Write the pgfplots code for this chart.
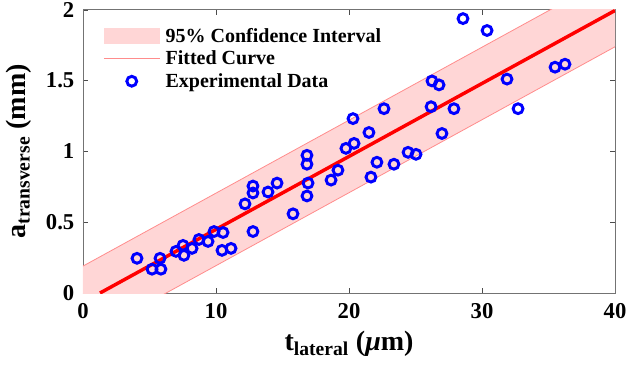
\documentclass[border=0pt]{standalone}
\usepackage{fontspec}
\setmainfont{Liberation Serif}
\usepackage{pgfplots}
\pgfplotsset{compat=1.18}
\definecolor{bandfill}{RGB}{255,214,214}
\definecolor{bandedge}{RGB}{255,140,140}
\definecolor{fitred}{RGB}{255,0,0}
\definecolor{datablue}{RGB}{0,0,255}
\begin{document}
\begin{tikzpicture}
\begin{axis}[
  name=ax,
  scale only axis,
  width=399pt, height=212.5pt,
  xmin=0, xmax=40, ymin=0, ymax=2,
  xtick={0,10,20,30,40},
  ytick={0,0.5,1,1.5,2},
  yticklabels={0,0.5,1,1.5,2},
  /pgf/number format/assume math mode=true,
  tick align=inside,
  major tick length=4pt,
  axis line style={black!55},
  tick style={black!70},
  tick label style={font=\fontsize{17}{20}\selectfont\bfseries},
  xticklabel style={yshift=-4pt},
  yticklabel style={xshift=-3pt},
  xlabel={t\textsubscript{lateral} ({\itshape μ}m)},
  ylabel={a\textsubscript{transverse} (mm)},
  label style={font=\fontsize{21}{24}\selectfont\bfseries},
  xlabel style={yshift=-3pt},
  ylabel style={yshift=4pt},
  legend style={draw=none, fill=none, at={(0.03,0.955)}, anchor=north west,
    font=\fontsize{15}{18}\selectfont\bfseries, row sep=1pt,
    /tikz/every odd column/.append style={column sep=2pt}},
  legend cell align=left,
]
\addplot[fill=bandfill, draw=none,
  legend image code/.code={\fill[bandfill] (0pt,-6pt) rectangle (42pt,6pt);}]
  coordinates {(0,0.19) (40,2.25) (40,1.738) (0,-0.322)} -- cycle;
\addlegendentry{95\% Confidence Interval}
\addplot[bandedge, line width=0.6pt,
  legend image code/.code={\draw[bandedge, line width=0.8pt] (0pt,0pt) -- (42pt,0pt);}]
  coordinates {(0,0.19) (40,2.25)};
\addlegendentry{Fitted Curve}
\addplot[bandedge, line width=0.6pt, forget plot]
  coordinates {(0,-0.322) (40,1.738)};
\addplot[fitred, line width=2.6pt, forget plot]
  coordinates {(1.28,0) (40,1.994)};
\addplot[only marks, mark=o, mark size=3.7pt, datablue, line width=2.2pt,
  legend image code/.code={\draw[datablue, line width=2.2pt] (21pt,0pt) circle (3.7pt);}]
  table {
x y
4.06 0.245
5.19 0.168
5.79 0.245
5.86 0.168
6.99 0.294
7.52 0.336
7.59 0.266
8.20 0.315
8.72 0.378
9.40 0.364
9.85 0.434
10.53 0.427
10.45 0.301
11.13 0.315
12.78 0.434
12.18 0.629
12.78 0.706
12.78 0.755
13.91 0.713
14.59 0.776
15.79 0.559
16.84 0.685
16.92 0.776
16.84 0.909
16.84 0.972
18.65 0.797
19.17 0.867
19.77 1.021
20.38 1.056
20.30 1.231
21.50 1.133
21.65 0.818
22.10 0.923
22.63 1.301
23.38 0.909
24.44 0.993
25.04 0.979
26.17 1.315
26.99 1.126
28.57 1.937
30.38 1.853
35.49 1.594
36.24 1.615
31.88 1.510
32.71 1.301
26.24 1.497
26.77 1.469
27.89 1.301
};
\addlegendentry{Experimental Data}
\end{axis}
\pgfresetboundingbox
\path ([shift={(-62.25pt,-57pt)}]ax.south west) rectangle ([shift={(9pt,7.25pt)}]ax.north east);
\end{tikzpicture}
\end{document}
